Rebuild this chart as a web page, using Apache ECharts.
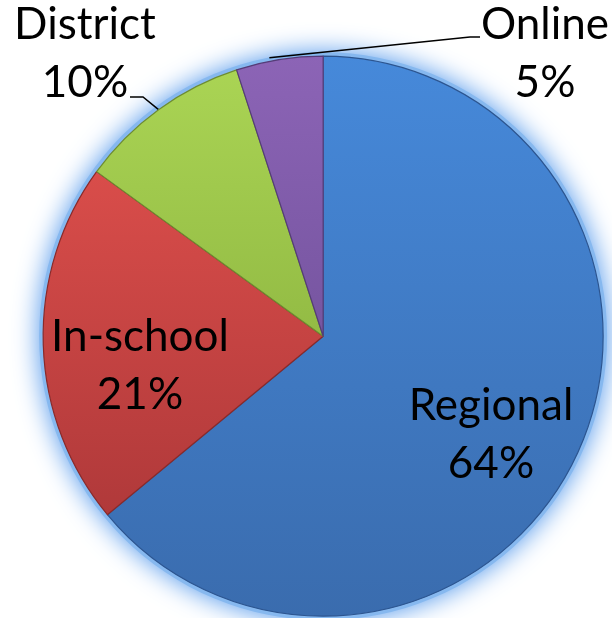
<!DOCTYPE html>
<html>
<head>
<meta charset="utf-8">
<script src="https://cdn.jsdelivr.net/npm/echarts@6/dist/echarts.min.js"></script>
<style>
  html, body { margin: 0; padding: 0; background: #fff; }
  #chart { width: 612px; height: 618px; }
</style>
</head>
<body>
<div id="chart"></div>
<script>
// data
var categories = ["Regional", "In-school", "District", "Online"];
var values = [64, 21, 10, 5];
var topColors = ["#4689da", "#d94d4a", "#aad454", "#8c64b6"];
var bottomColors = ["#3a6cae", "#b0393a", "#93bb44", "#7655a0"];
var edgeColors = ["#2c5590", "#8a2a2a", "#6e8c30", "#553c78"];
// label anchor spots (text block centers)
var labelSpots = [[491, 435], [140, 366], [85, 54], [545, 54]];
// leader line bend/end offsets from the label spot
var leaderBends = [null, null, [[58, 43], [45, 43]], [[-75, -17], [-65, -17]]];

var myChart = echarts.init(document.getElementById("chart"));

var total = values.reduce(function (a, b) { return a + b; }, 0);

var pieData = categories.map(function (name, i) {
    return {
        name: name,
        value: values[i],
        itemStyle: {
            color: new echarts.graphic.LinearGradient(0, 0, 0, 1, [
                { offset: 0, color: topColors[i] },
                { offset: 1, color: bottomColors[i] }
            ]),
            borderColor: edgeColors[i],
            borderWidth: 1.2
        },
        label: {
            position: i < 2 ? "inside" : "outside"
        },
        labelLine: {
            show: i >= 2
        }
    };
});

var option = {
    backgroundColor: "#fff",
    animation: false,
    series: [
        {
            // soft blue glow behind the pie
            type: "pie",
            silent: true,
            center: ["52.8%", "54.4%"],
            radius: 284,
            z: 1,
            label: { show: false },
            labelLine: { show: false },
            itemStyle: {
                color: "#86b8ef",
                shadowBlur: 26,
                shadowColor: "rgba(80,150,235,1)"
            },
            data: [{ name: "glow", value: total }]
        },
        {
            type: "pie",
            center: ["52.8%", "54.4%"],
            radius: 280,
            startAngle: 90,
            clockwise: true,
            z: 2,
            label: {
                show: true,
                formatter: "{b}\n{d}%",
                fontFamily: "Lato",
                fontSize: 44,
                lineHeight: 58,
                color: "#000",
                overflow: "none"
            },
            labelLine: {
                length: 15,
                length2: 12,
                smooth: false,
                lineStyle: { color: "#000", width: 1.5 }
            },
            labelLayout: function (params) {
                var i = params.dataIndex;
                var p = labelSpots[i];
                var out = {
                    x: p[0],
                    y: p[1],
                    align: "center",
                    verticalAlign: "middle"
                };
                var bend = leaderBends[i];
                if (bend && params.labelLinePoints) {
                    var start = params.labelLinePoints[0];
                    if (i === 3) {
                        // Online line leaves the slice a little further left
                        start = [start[0] - 10, start[1] - 2];
                    }
                    out.labelLinePoints = [
                        start,
                        [p[0] + bend[0][0], p[1] + bend[0][1]],
                        [p[0] + bend[1][0], p[1] + bend[1][1]]
                    ];
                }
                return out;
            },
            data: pieData
        }
    ]
};

myChart.setOption(option);
</script>
</body>
</html>
